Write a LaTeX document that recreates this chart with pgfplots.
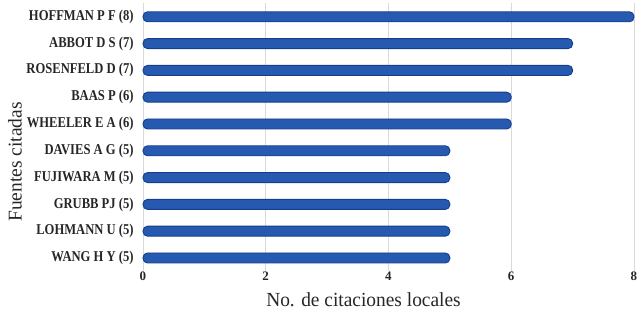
\documentclass[border=0pt]{standalone}
\usepackage{fontspec}
\setmainfont{Liberation Serif}
\usepackage{pgfplots}
\pgfplotsset{compat=1.18}
\definecolor{barfill}{HTML}{2659B0}
\definecolor{baredge}{HTML}{163E8C}
\definecolor{gridc}{HTML}{D9D9D9}
\definecolor{txt}{HTML}{262626}
\begin{document}
\begin{tikzpicture}
\path[use as bounding box] (-143pt,-46.6pt) rectangle (496pt,271.4pt);
\begin{axis}[
  anchor=south west, at={(0pt,0pt)},
  scale only axis, width=491pt, height=268pt,
  xmin=0, xmax=8, ymin=-0.5, ymax=9.5,
  xtick={0,2,4,6,8},
  ytick={0,...,9},
  yticklabels={WANG H Y (5),LOHMANN U (5),GRUBB PJ (5),FUJIWARA M (5),DAVIES A G (5),WHEELER E A (6),BAAS P (6),ROSENFELD D (7),ABBOT D S (7),HOFFMAN P F (8)},
  axis lines=left,
  axis line style={-},
  x axis line style={draw=none},
  y axis line style={draw=gridc, line width=0.8pt},
  major tick length=0pt,
  xmajorgrids, major grid style={draw=gridc, line width=0.7pt},
  yticklabel style={font=\fontsize{15}{15}\selectfont\bfseries, text=txt, xscale=0.84, inner sep=0pt, xshift=-11pt},
  xticklabel style={font=\fontsize{13}{13}\selectfont\bfseries, text=txt, inner sep=0pt, yshift=0pt},
  /pgf/number format/assume math mode=true,
  clip=false,
]
\addplot[xbar, bar width=10pt, fill=barfill, draw=baredge, line width=0.9pt, rounded corners=4.5pt]
 coordinates {(5,0) (5,1) (5,2) (5,3) (5,4) (6,5) (6,6) (7,7) (7,8) (8,9)};
\end{axis}
\node[font=\fontsize{20}{20}\selectfont, text=txt, xscale=0.97] at (220.5pt,-28.6pt) {No. de citaciones locales};
\node[font=\fontsize{19.5}{19.5}\selectfont, text=txt, rotate=90] at (-128pt,109.4pt) {Fuentes citadas};
\end{tikzpicture}
\end{document}
